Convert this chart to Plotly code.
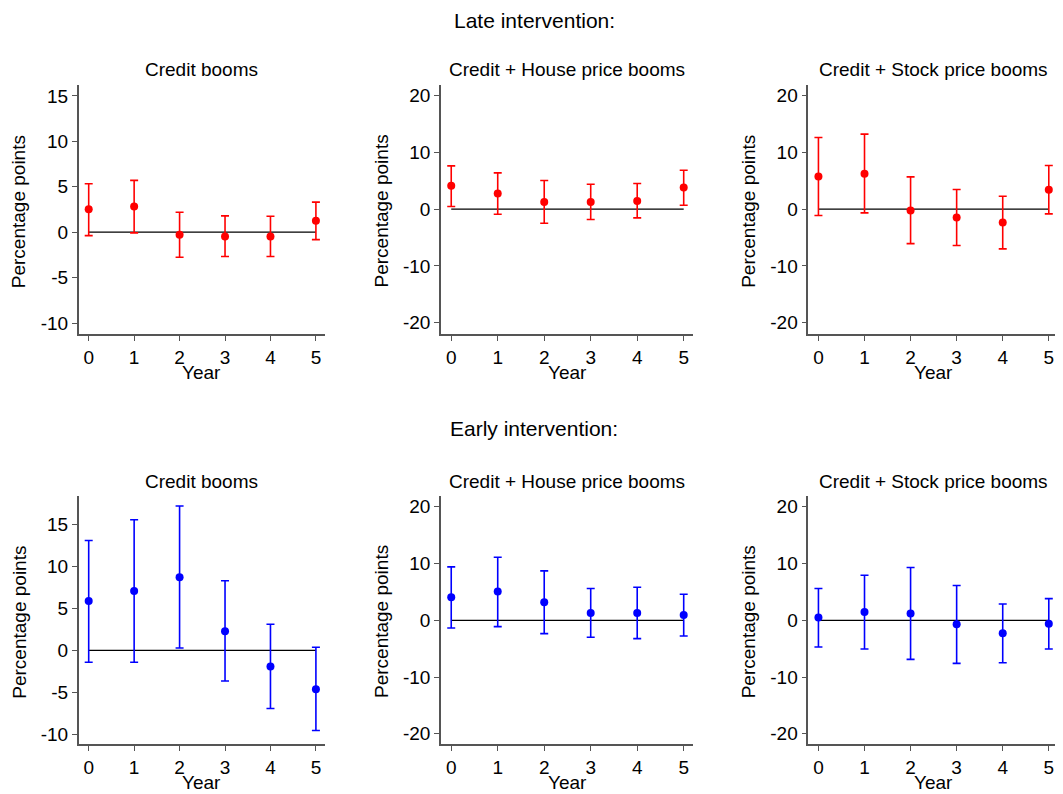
import plotly.graph_objects as go

years = [0, 1, 2, 3, 4, 5]

late_credit_est = [2.54, 2.83, -0.29, -0.48, -0.48, 1.25]
late_credit_hi = [5.33, 5.70, 2.20, 1.80, 1.76, 3.31]
late_credit_lo = [-0.37, -0.07, -2.76, -2.68, -2.68, -0.81]

late_house_est = [4.12, 2.76, 1.29, 1.29, 1.47, 3.82]
late_house_hi = [7.65, 6.41, 5.06, 4.41, 4.53, 6.88]
late_house_lo = [0.47, -0.88, -2.47, -1.82, -1.53, 0.71]

late_stock_est = [5.76, 6.24, -0.24, -1.47, -2.35, 3.41]
late_stock_hi = [12.65, 13.24, 5.70, 3.47, 2.29, 7.71]
late_stock_lo = [-1.12, -0.65, -6.06, -6.41, -7.00, -0.82]

early_credit_est = [5.88, 7.07, 8.70, 2.26, -1.94, -4.64]
early_credit_hi = [13.10, 15.57, 17.20, 8.30, 3.10, 0.36]
early_credit_lo = [-1.43, -1.43, 0.28, -3.65, -6.94, -9.56]

early_house_est = [4.06, 5.06, 3.18, 1.29, 1.29, 0.94]
early_house_hi = [9.41, 11.12, 8.71, 5.59, 5.82, 4.59]
early_house_lo = [-1.35, -1.12, -2.35, -3.00, -3.24, -2.76]

early_stock_est = [0.47, 1.47, 1.18, -0.71, -2.29, -0.59]
early_stock_hi = [5.59, 7.94, 9.29, 6.12, 2.88, 3.82]
early_stock_lo = [-4.71, -5.06, -6.88, -7.59, -7.47, -5.06]

panel_titles = ["Credit booms", "Credit + House price booms", "Credit + Stock price booms"]
row_titles = ["Late intervention:", "Early intervention:"]
ticks_small = [-10, -5, 0, 5, 10, 15]
ticks_small_text = ["-10", "-5", "0", "5", "10", "15"]
ticks_large = [-20, -10, 0, 10, 20]
ticks_large_text = ["-20", "-10", "0", "10", "20"]
year_text = ["0", "1", "2", "3", "4", "5"]

# page body has an 8px margin; lay out in reference pixels minus that offset
OFF = 8
W, H = 1063 - OFF, 794 - OFF
FONT = "Arial, Liberation Sans, sans-serif"
FS = 19

panels = [
    (late_credit_est, late_credit_hi, late_credit_lo, "#FF0000", 0, 0, [-11.2, 16.2], ticks_small, ticks_small_text),
    (late_house_est, late_house_hi, late_house_lo, "#FF0000", 0, 1, [-22.0, 21.9], ticks_large, ticks_large_text),
    (late_stock_est, late_stock_hi, late_stock_lo, "#FF0000", 0, 2, [-22.0, 21.9], ticks_large, ticks_large_text),
    (early_credit_est, early_credit_hi, early_credit_lo, "#0000FF", 1, 0, [-11.17, 18.4], ticks_small, ticks_small_text),
    (early_house_est, early_house_hi, early_house_lo, "#0000FF", 1, 1, [-21.8, 21.9], ticks_large, ticks_large_text),
    (early_stock_est, early_stock_hi, early_stock_lo, "#0000FF", 1, 2, [-21.8, 21.9], ticks_large, ticks_large_text),
]

# pixel layout (reference coordinates)
col_px = [(78.7, 325.0), (441.0, 693.0), (808.3, 1058.0)]
row_px = [(85.0, 334.0), (496.0, 744.0)]


def px_x(p):
    return (p - OFF) / W


def px_y(p):
    return 1 - (p - OFF) / H


fig = go.Figure()
layout = dict(
    width=W, height=H, margin=dict(l=0, r=0, t=0, b=0),
    paper_bgcolor="white", plot_bgcolor="white",
    showlegend=False, font=dict(family=FONT, color="black", size=FS),
)
annotations = []

for i, (est, hi, lo, color, r, c, yr, yt, ytt) in enumerate(panels):
    n = i + 1
    xa = "x" if n == 1 else f"x{n}"
    ya = "y" if n == 1 else f"y{n}"
    up = [h - e for h, e in zip(hi, est)]
    dn = [e - l for e, l in zip(est, lo)]
    fig.add_trace(go.Scatter(x=[years[0], years[-1]], y=[0, 0], mode="lines",
                             line=dict(color="black", width=1.2),
                             xaxis=xa, yaxis=ya, hoverinfo="skip"))
    fig.add_trace(go.Scatter(
        x=years, y=est, mode="markers",
        marker=dict(color=color, size=8, symbol="circle"),
        error_y=dict(type="data", symmetric=False, array=up, arrayminus=dn,
                     color=color, thickness=1.6, width=4),
        xaxis=xa, yaxis=ya))
    x0, x1 = col_px[c]
    y0, y1 = row_px[r]
    axname_x = "xaxis" if n == 1 else f"xaxis{n}"
    axname_y = "yaxis" if n == 1 else f"yaxis{n}"
    layout[axname_x] = dict(
        domain=[px_x(x0), px_x(x1)], anchor=ya, range=[-0.22, 5.2],
        tickvals=years, ticktext=year_text,
        showline=True, linecolor="#555555", linewidth=1.5,
        ticks="outside", ticklen=5, tickwidth=1.2, tickcolor="#555555",
        showgrid=False, zeroline=False, tickfont=dict(size=FS, family=FONT, color="black"),
        fixedrange=True)
    layout[axname_y] = dict(
        domain=[px_y(y1), px_y(y0)], anchor=xa, range=yr, tickvals=yt, ticktext=ytt,
        showline=True, linecolor="#555555", linewidth=1.5,
        ticks="outside", ticklen=5, tickwidth=1.2, tickcolor="#555555",
        showgrid=False, zeroline=False, tickfont=dict(size=FS, family=FONT, color="black"),
        fixedrange=True)
    annotations.append(dict(text=panel_titles[c], xref="paper", yref="paper",
                            x=px_x((x0 + x1) / 2), y=px_y(y0 - 15),
                            xanchor="center", yanchor="middle", showarrow=False,
                            font=dict(size=FS, family=FONT, color="black")))
    annotations.append(dict(text="Percentage points", xref="paper", yref="paper",
                            x=px_x(x0 - 60), y=px_y((y0 + y1) / 2 + 2),
                            xanchor="center", yanchor="middle", textangle=-90,
                            showarrow=False, font=dict(size=FS, family=FONT, color="black")))
    annotations.append(dict(text="Year", xref="paper", yref="paper",
                            x=px_x((x0 + x1) / 2), y=px_y(y1 + 38),
                            xanchor="center", yanchor="middle", showarrow=False,
                            font=dict(size=FS, family=FONT, color="black")))

# row titles
annotations.append(dict(text=row_titles[0], xref="paper", yref="paper",
                        x=px_x(534), y=1.0, xanchor="center", yanchor="top",
                        borderpad=0, showarrow=False,
                        font=dict(size=21, family=FONT, color="black")))
annotations.append(dict(text=row_titles[1], xref="paper", yref="paper",
                        x=px_x(534), y=px_y(428.5), xanchor="center", yanchor="middle",
                        showarrow=False, font=dict(size=21, family=FONT, color="black")))

layout["annotations"] = annotations
fig.update_layout(**layout)
fig.write_html("out.html")
